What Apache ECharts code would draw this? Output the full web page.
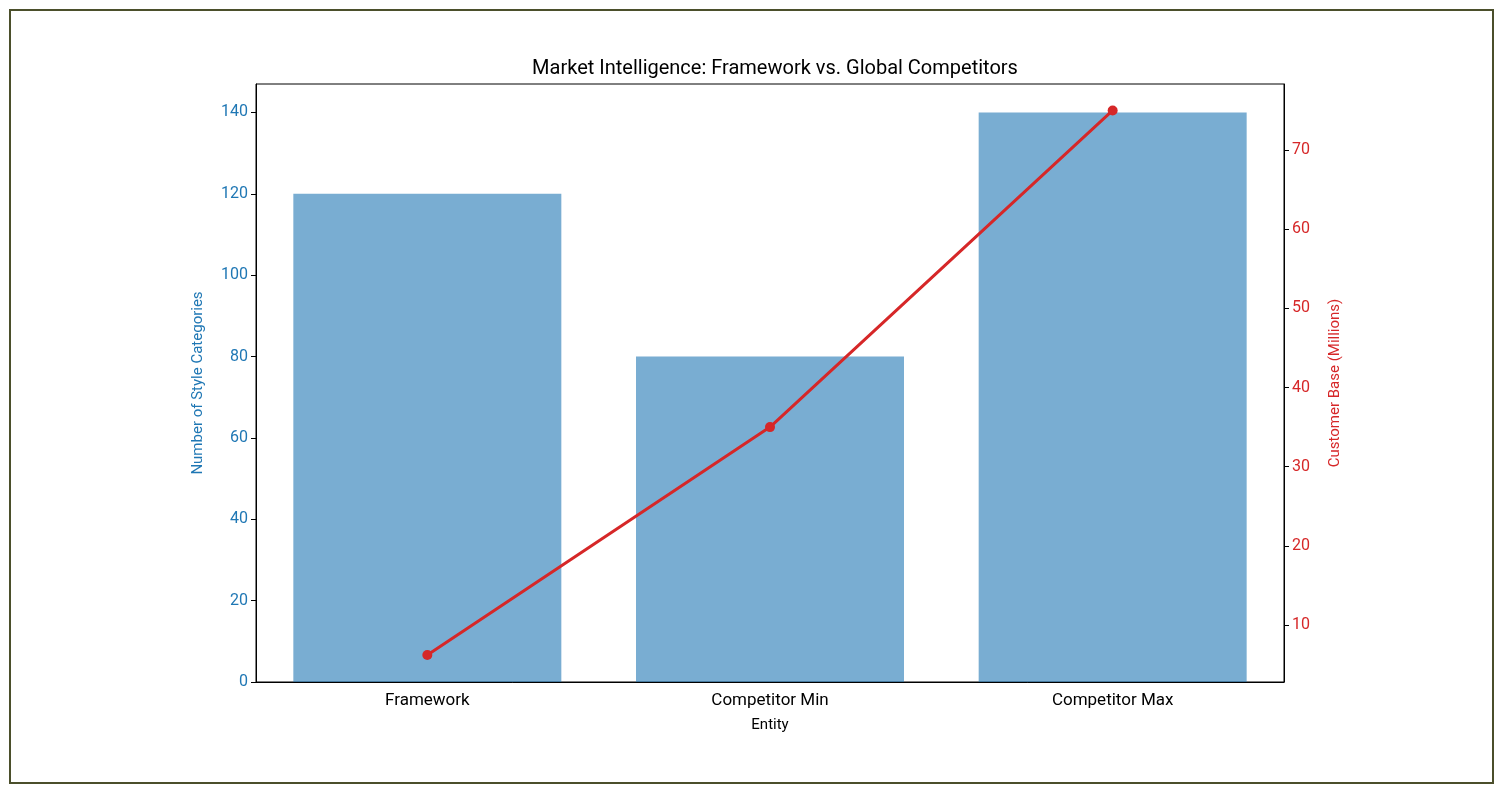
<!DOCTYPE html>
<html>
<head>
<meta charset="utf-8">
<script src="https://cdn.jsdelivr.net/npm/echarts@6/dist/echarts.min.js"></script>
<style>
html,body{margin:0;padding:0;background:#fff;}
#frame{position:absolute;left:9px;top:9px;width:1481px;height:771px;border:2px solid #4b4f2b;}
#chart{position:absolute;left:0;top:0;width:1503px;height:793px;}
</style>
</head>
<body>
<div id="frame"></div>
<div id="chart"></div>
<script>
var entities = ['Framework', 'Competitor Min', 'Competitor Max'];
var styleCategories = [120, 80, 140];
var customerBase = [6.2, 35, 75];
var leftTicks = [0, 20, 40, 60, 80, 100, 120, 140];
var rightTicks = [10, 20, 30, 40, 50, 60, 70];

var myChart = echarts.init(document.getElementById('chart'));
var font = 'Roboto, "DejaVu Sans", sans-serif';

var option = {
    animation: false,
    title: {
        text: 'Market Intelligence: Framework vs. Global Competitors',
        left: 770, top: 54, textAlign: 'center',
        textStyle: {fontFamily: font, fontSize: 20, fontWeight: 'normal', color: '#000'}
    },
    grid: {
        left: 256, right: 219, top: 84, bottom: 111,
        show: true, borderColor: '#000', borderWidth: 1
    },
    xAxis: {
        type: 'category',
        data: entities,
        name: 'Entity', nameLocation: 'middle', nameGap: 36,
        nameTextStyle: {fontFamily: font, fontSize: 15, color: '#000'},
        axisLine: {lineStyle: {color: '#000'}},
        axisTick: {alignWithLabel: true, lineStyle: {color: '#000'}, length: 5},
        axisLabel: {fontFamily: font, fontSize: 17, color: '#000', margin: 10}
    },
    yAxis: [{
        type: 'value', min: 0, max: 147,
        name: 'Number of Style Categories', nameLocation: 'middle', nameGap: 50,
        nameTextStyle: {fontFamily: font, fontSize: 15, color: '#1f77b4'},
        axisLine: {show: true, lineStyle: {color: '#000'}},
        axisTick: {show: true, customValues: leftTicks, lineStyle: {color: '#000'}, length: 5},
        axisLabel: {customValues: leftTicks, fontFamily: font, fontSize: 16, color: '#1f77b4'},
        splitLine: {show: false}
    }, {
        type: 'value', min: 2.8, max: 78.34, position: 'right',
        name: 'Customer Base (Millions)', nameLocation: 'middle', nameGap: 44,
        nameRotate: 90,
        nameTextStyle: {fontFamily: font, fontSize: 15, color: '#d62728'},
        axisLine: {show: true, lineStyle: {color: '#000'}},
        axisTick: {show: true, customValues: rightTicks, lineStyle: {color: '#000'}, length: 5},
        axisLabel: {customValues: rightTicks, fontFamily: font, fontSize: 16, color: '#d62728'},
        splitLine: {show: false}
    }],
    series: [{
        type: 'bar', data: styleCategories, barWidth: 268,
        itemStyle: {color: 'rgba(31,119,180,0.6)'}
    }, {
        type: 'line', yAxisIndex: 1, data: customerBase,
        symbol: 'circle', symbolSize: 10,
        lineStyle: {color: '#d62728', width: 3},
        itemStyle: {color: '#d62728'}
    }]
};
myChart.setOption(option);
</script>
</body>
</html>
